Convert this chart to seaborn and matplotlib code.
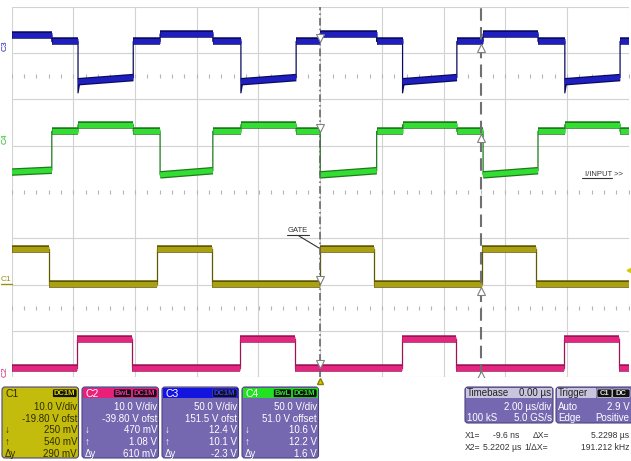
"""
plot.py

Four-channel scope capture (gate, input and two drain-type nodes)
redrawn with seaborn on a 10 x 8 division graticule.
"""

import numpy as np
import pandas as pd
import seaborn as sns
import matplotlib.pyplot as plt
from matplotlib.patches import FancyBboxPatch, Rectangle

# ---- data (time in us, levels in divisions) ----
edges_c3c4 = [-10.0, -8.70, -7.85, -6.06, -5.19, -3.48, -2.57, -0.78, 0.0,
              1.83, 2.67, 4.43, 5.28, 7.06, 7.93, 9.72, 10.0]
c3_start = [3.38, 3.25, 2.38, 3.25, 3.41, 3.25, 2.38, 3.25,
            3.41, 3.25, 2.38, 3.25, 3.41, 3.25, 2.38, 3.25]
c3_end = [3.38, 3.25, 2.47, 3.25, 3.41, 3.25, 2.47, 3.25,
          3.41, 3.25, 2.47, 3.25, 3.41, 3.25, 2.47, 3.25]
c3_spike = 2.14
c4_start = [0.43, 1.31, 1.45, 1.31, 0.37, 1.31, 1.45, 1.31,
            0.37, 1.31, 1.45, 1.31, 0.37, 1.31, 1.45, 1.31]
c4_end = [0.47, 1.31, 1.45, 1.31, 0.46, 1.31, 1.45, 1.31,
          0.46, 1.31, 1.45, 1.31, 0.46, 1.31, 1.45, 1.31]
edges_c1 = [-10.0, -8.78, -5.29, -3.52, 0.0, 1.74, 5.23, 7.00, 10.0]
c1_level = [-1.22, -1.99, -1.22, -1.99, -1.22, -1.99, -1.22, -1.99]
edges_c2 = [-10.0, -7.87, -6.11, -2.60, -0.82, 2.65, 4.39, 7.90, 9.69, 10.0]
c2_level = [-3.79, -3.18, -3.79, -3.18, -3.79, -3.18, -3.79, -3.18, -3.79]

cursor_x1 = -0.0096   # us
cursor_x2 = 5.2202    # us
trig_level_div = -1.98 + 0.29   # C1 offset + 2.9 V at 10 V/div

ch_names = ["C1", "C2", "C3", "C4"]
ch_vdiv = ["10.0 V/div", "10.0 V/div", "50.0 V/div", "50.0 V/div"]
ch_ofst = ["-19.80 V ofst", "-39.80 V ofst", "151.5 V ofst", "51.0 V offset"]
ch_down = ["250 mV", "470 mV", "12.4 V", "10.6 V"]
ch_up = ["540 mV", "1.08 V", "10.1 V", "12.2 V"]
ch_dy = ["290 mV", "610 mV", "-2.3 V", "1.6 V"]
ch_bwl = [False, True, False, True]


def build(edges, start, end, spike=None):
    line, band = [], []
    for i in range(len(start)):
        t0, t1 = edges[i], edges[i + 1]
        if spike is not None and i > 0 and start[i] < end[i - 1] - 0.5:
            line.append((t0, spike))
            line.append((t0 + 0.06, start[i]))
        else:
            line.append((t0, start[i]))
        line.append((t1, end[i]))
        band += [(t0, start[i], i), (t1, end[i], i)]
    return (pd.DataFrame(line, columns=["t", "v"]),
            pd.DataFrame(band, columns=["t", "v", "seg"]))


sns.set_style("white")
plt.rcParams["font.family"] = ["Liberation Sans", "DejaVu Sans"]

W, H = 631, 461
fig = plt.figure(figsize=(W / 100, H / 100), dpi=100)
ax = fig.add_axes([11.7 / W, 1 - 377.3 / H, 617 / W, 370.6 / H])
ax.set_xlim(-10, 10)
ax.set_ylim(-4, 4)
ax.set_axis_off()

# graticule
for gx in np.arange(-10, 10.1, 2):
    ax.axvline(gx, color="#d2d2d2", lw=0.8, zorder=0)
for gy in [-4, -3, -2, -1, 1, 2, 3, 4]:
    ax.axhline(gy, color="#d2d2d2", lw=0.8, zorder=0)
tick_x = np.arange(-10, 10.01, 0.4)
for gy in [2.5, 0, -2.5]:
    ax.plot(tick_x, np.full_like(tick_x, gy), ls="none", marker="|",
            ms=2.2, mew=0.8, color="#b4b4b4", zorder=0)

traces = [
    (build(edges_c3c4, c3_start, c3_end, c3_spike), "#1f1fc0", "#0a0a60"),
    (build(edges_c3c4, c4_start, c4_end), "#33dd33", "#1d7a1d"),
    (build(edges_c1, c1_level, c1_level), "#aaa012", "#5e5800"),
    (build(edges_c2, c2_level, c2_level), "#e3267f", "#9c1456"),
]
for (line_df, band_df), fill, edge in traces:
    sns.lineplot(data=line_df, x="t", y="v", sort=False, estimator=None,
                 color=edge, lw=0.9, ax=ax, legend=False, zorder=2)
    sns.lineplot(data=band_df, x="t", y="v", units="seg", sort=False,
                 estimator=None, color=edge, lw=5.4, ax=ax, legend=False,
                 solid_capstyle="butt", zorder=3)
    sns.lineplot(data=band_df, x="t", y="v", units="seg", sort=False,
                 estimator=None, color=fill, lw=3.6, ax=ax, legend=False,
                 solid_capstyle="butt", zorder=4)

# cursors
ax.axvline(cursor_x1, color="#606060", lw=1.1, ls=(0, (5, 2, 1, 2)), zorder=5)
ax.axvline(cursor_x2, color="#707070", lw=1.5, ls=(0, (6, 3)), zorder=5)


def level_at(df, t):
    return np.interp(t, df["t"].to_numpy(), df["v"].to_numpy())


for (line_df, band_df), fill, edge in traces:
    y1 = level_at(band_df, cursor_x1 - 0.02)
    y2 = level_at(band_df, cursor_x2 - 0.02)
    ax.plot(cursor_x1, y1 + 0.08, marker="v", ms=5.5, mfc="white",
            mec="#808080", mew=0.8, zorder=6)
    ax.plot(cursor_x2, y2 - 0.15, marker="^", ms=5.5, mfc="white",
            mec="#808080", mew=0.8, zorder=6)

# trigger markers
ax.plot(0, -4.07, marker="^", ms=5, color="#d8c800", mec="#8a8000",
        clip_on=False, zorder=6)
ax.plot(10.0, trig_level_div, marker="<", ms=3.5, color="#d8c800",
        clip_on=False, zorder=6)

# ---- overlay in pixel coordinates ----
ov = fig.add_axes([0, 0, 1, 1])
ov.set_xlim(0, W)
ov.set_ylim(H, 0)
ov.set_axis_off()
ov.patch.set_alpha(0)

# channel markers on the left
ov.text(5.5, 46, "C3", color="#2020c0", fontsize=6, rotation=90,
        ha="center", va="center")
ov.text(5.5, 139, "C4", color="#22bb22", fontsize=6, rotation=90,
        ha="center", va="center")
ov.text(6, 279, "C1", color="#9a9010", fontsize=6, ha="center",
        va="center")
ov.plot([1, 12], [284, 284], color="#9a9010", lw=1)
ov.text(5.5, 372, "C2", color="#d0206e", fontsize=6, rotation=90,
        ha="center", va="center")

# annotations
ov.text(298, 230.5, "GATE", fontsize=5.5, color="#333333", ha="center",
        va="center")
ov.plot([287, 309], [235, 235], color="#333333", lw=0.8)
ov.plot([299, 319], [236, 248], color="#333333", lw=0.8)
ov.text(604, 174, "I/INPUT >>", fontsize=5.5, color="#333333", ha="center",
        va="center")
ov.plot([582, 612], [178.5, 178.5], color="#333333", lw=0.8)

PURPLE = "#7568b0"
ch_colors = [None, "#e8207a", "#1414e0", "#22e022"]
badge_txt = ["#d8d000", "#f0309a", "#3c3cff", "#30e030"]


def badge(x0, x1, txt, tc):
    ov.add_patch(FancyBboxPatch((x0, 389), x1 - x0, 8.5,
                                boxstyle="round,pad=0,rounding_size=1.5",
                                fc="#111111", ec=tc, lw=0.5))
    ov.text((x0 + x1) / 2, 393.4, txt, fontsize=5.5, color=tc,
            ha="center", va="center", fontweight="bold")


for i, name in enumerate(ch_names):
    x, w = 2 + 80 * i, 76.5
    face = "#c4bc0c" if i == 0 else PURPLE
    tcol = "#2d2d00" if i == 0 else "white"
    ov.add_patch(FancyBboxPatch((x, 387), w, 71,
                                boxstyle="round,pad=0,rounding_size=3",
                                fc=face, ec="#4a4480", lw=0.8))
    if i > 0:
        ov.add_patch(Rectangle((x + 1, 388), w - 2, 10, fc=ch_colors[i],
                               ec="none"))
    ov.text(x + 3.5, 393.5, name, fontsize=7.5, va="center",
            color="#2d2d00" if i == 0 else "#ffffff")
    badge(x + w - 26, x + w - 1.5, "DC1M", badge_txt[i])
    if ch_bwl[i]:
        badge(x + w - 45, x + w - 27, "BwL", badge_txt[i])
    rows = [ch_vdiv[i], ch_ofst[i], ch_down[i], ch_up[i], ch_dy[i]]
    ys = [407, 418.5, 430, 441.5, 453.5]
    for txt, yy in zip(rows, ys):
        ov.text(x + w - 1.5, yy, txt, fontsize=7, ha="right", va="center",
                color=tcol)
    for sym, yy in zip(["\u2193", "\u2191", "\u0394y"], ys[2:]):
        ov.text(x + 3, yy, sym, fontsize=7, ha="left", va="center",
                color=tcol)

# timebase / trigger boxes
ov.add_patch(FancyBboxPatch((465, 387), 88, 36,
                            boxstyle="round,pad=0,rounding_size=3",
                            fc=PURPLE, ec="#4a4480", lw=0.8))
ov.add_patch(Rectangle((466, 388), 86, 9.5, fc="#c9c5de", ec="none"))
ov.text(467, 393, "Timebase", fontsize=7, color="#222222", va="center")
ov.text(551.5, 393, "0.00 \u00b5s", fontsize=7, color="#222222",
        va="center", ha="right")
ov.text(551.5, 406.5, "2.00 \u00b5s/div", fontsize=7, color="white",
        va="center", ha="right")
ov.text(467, 417.5, "100 kS", fontsize=7, color="white", va="center")
ov.text(551.5, 417.5, "5.0 GS/s", fontsize=7, color="white", va="center",
        ha="right")

ov.add_patch(FancyBboxPatch((556, 387), 84, 36,
                            boxstyle="round,pad=0,rounding_size=3",
                            fc=PURPLE, ec="#4a4480", lw=0.8))
ov.add_patch(Rectangle((557, 388), 39, 9.5, fc="#c9c5de", ec="none"))
ov.text(558, 393, "Trigger", fontsize=7, color="#222222", va="center")
badge(597, 612, "C1", "#e0e0e0")
badge(612.5, 630, "DC", "#e0e0e0")
ov.text(558, 406.5, "Auto", fontsize=7, color="white", va="center")
ov.text(629.5, 406.5, "2.9 V", fontsize=7, color="white", va="center",
        ha="right")
ov.text(558, 417.5, "Edge", fontsize=7, color="white", va="center")
ov.text(629.5, 417.5, "Positive", fontsize=7, color="white", va="center",
        ha="right")

# cursor readout
dx = cursor_x2 - cursor_x1
rc = "#333333"
fs = 6.2
ov.text(465, 435, "X1=", fontsize=fs, color=rc, va="center")
ov.text(519, 435, f"{cursor_x1 * 1000:.1f} ns", fontsize=fs, color=rc,
        va="center", ha="right")
ov.text(533, 435, "\u0394X=", fontsize=fs, color=rc, va="center")
ov.text(629.5, 435, f"{dx:.4f} \u00b5s", fontsize=fs, color=rc, va="center",
        ha="right")
ov.text(465, 447, "X2=", fontsize=fs, color=rc, va="center")
ov.text(521.5, 447, f"{cursor_x2:.4f} \u00b5s", fontsize=fs, color=rc,
        va="center", ha="right")
ov.text(524, 447, "1/\u0394X=", fontsize=fs, color=rc, va="center")
ov.text(629.5, 447, f"{1000 / dx:.3f} kHz", fontsize=fs, color=rc,
        va="center", ha="right")

fig.savefig("out.png", dpi=100, facecolor="white")
